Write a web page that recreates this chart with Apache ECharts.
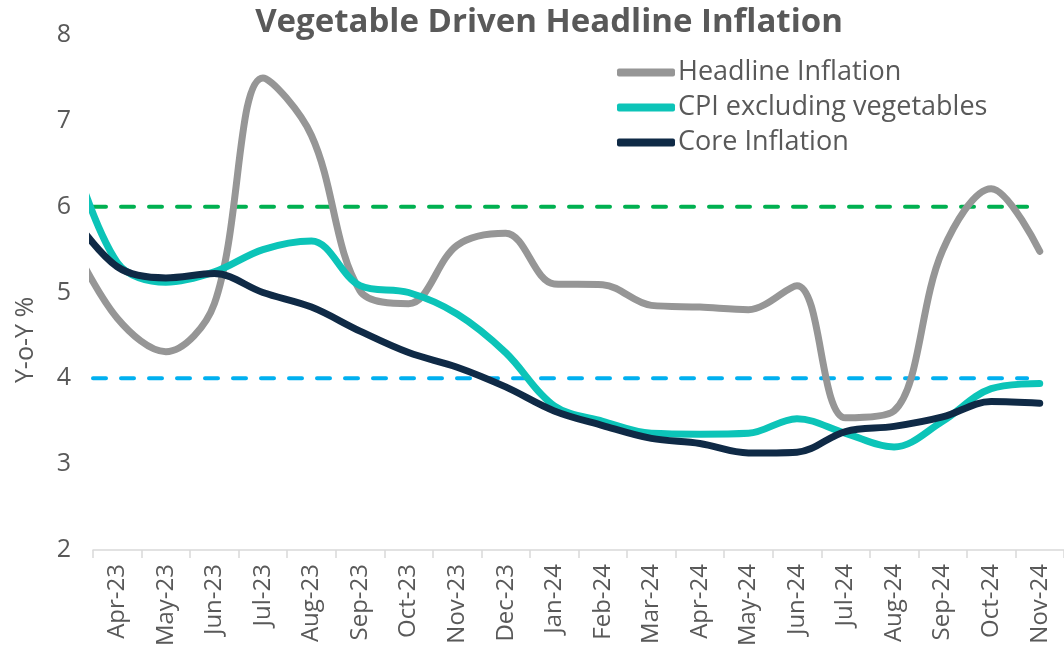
<!DOCTYPE html>
<html>
<head>
<meta charset="utf-8">
<script src="https://cdn.jsdelivr.net/npm/echarts@6/dist/echarts.min.js"></script>
<style>
html,body{margin:0;padding:0;background:#fff;}
#chart{width:1064px;height:665px;}
</style>
</head>
<body>
<div id="chart"></div>
<script>
// ---- data ----
const categories = ['Apr-23','May-23','Jun-23','Jul-23','Aug-23','Sep-23','Oct-23','Nov-23','Dec-23',
  'Jan-24','Feb-24','Mar-24','Apr-24','May-24','Jun-24','Jul-24','Aug-24','Sep-24','Oct-24','Nov-24'];
// value for the month before the first category (Mar-23); the chart clips it at the axis start
const priorHeadline = 5.66;
const priorExVeg = 6.75;
const priorCore = 5.95;
const headline = [4.70,4.31,4.87,7.50,6.83,5.02,4.87,5.55,5.69,5.10,5.09,4.85,4.83,4.80,5.08,3.54,3.62,5.49,6.21,5.48];
const exVeg    = [5.35,5.12,5.24,5.50,5.60,5.08,5.00,4.75,4.30,3.68,3.50,3.36,3.35,3.36,3.53,3.36,3.20,3.50,3.88,3.94];
const core     = [5.30,5.17,5.22,5.00,4.83,4.55,4.30,4.13,3.90,3.62,3.45,3.30,3.24,3.13,3.14,3.38,3.44,3.55,3.73,3.71];
const upperTarget = 6;
const lowerTarget = 4;
const yTicks = [2,3,4,5,6,7,8];

const FONT = 'Open Sans';
const TXT = '#595959';

function toPts(prior, arr){
  const pts = [[-1, prior]];
  arr.forEach((v,i)=>pts.push([i, v]));
  return pts;
}
const refStart = -0.5, refEnd = categories.length - 1.26;

const chart = echarts.init(document.getElementById('chart'), null, {renderer:'canvas'});
const lineCommon = {type:'line', xAxisIndex:1, yAxisIndex:0, showSymbol:false, symbol:'none', smooth:0.35, clip:true, z:3};
chart.setOption({
  animation:false,
  backgroundColor:'#fff',
  title:{text:'Vegetable Driven Headline Inflation', left:544, textAlign:'center', top:1,
    textStyle:{fontFamily:FONT, fontWeight:'bold', fontSize:33, color:TXT}},
  legend:{orient:'vertical', left:617, top:59, padding:0, itemWidth:58, itemHeight:8, itemGap:8, icon:'roundRect',
    data:['Headline Inflation','CPI excluding vegetables','Core Inflation'],
    textStyle:{fontFamily:FONT, fontSize:27, color:TXT, padding:[0,0,0,-2]}},
  grid:{left:93, top:35, width:977, height:515, containLabel:false},
  xAxis:[
    {type:'category', data:categories, boundaryGap:true,
     axisLine:{show:true, lineStyle:{color:'#d9d9d9', width:1.5}},
     axisTick:{show:true, length:8, lineStyle:{color:'#d9d9d9', width:1.5}},
     axisLabel:{rotate:90, fontFamily:FONT, fontSize:24, color:TXT, margin:14, interval:0}},
    {type:'value', min:-0.5, max:categories.length-0.5, show:false}
  ],
  yAxis:{type:'value', min:yTicks[0], max:yTicks[yTicks.length-1], interval:1,
    axisLine:{show:false}, axisTick:{show:false}, splitLine:{show:false},
    axisLabel:{fontFamily:FONT, fontSize:25, color:TXT, margin:22}},
  graphic:[{type:'text', x:26, y:340, rotation:Math.PI/2,
    style:{text:'Y-o-Y %', font:'25px "Open Sans"', fill:TXT, align:'center', verticalAlign:'middle'}}],
  series:[
    Object.assign({}, lineCommon, {name:'upper', data:[[refStart,upperTarget],[refEnd,upperTarget]], smooth:false, z:2,
      lineStyle:{color:'#00B050', width:4, type:[13,15], cap:'round'}}),
    Object.assign({}, lineCommon, {name:'lower', data:[[refStart,lowerTarget],[refEnd,lowerTarget]], smooth:false, z:2,
      lineStyle:{color:'#00B0F0', width:4, type:[13,15], cap:'round'}}),
    Object.assign({}, lineCommon, {name:'Headline Inflation', data:toPts(priorHeadline, headline),
      itemStyle:{color:'#969696'}, lineStyle:{color:'#969696', width:7, cap:'round'}}),
    Object.assign({}, lineCommon, {name:'CPI excluding vegetables', data:toPts(priorExVeg, exVeg),
      itemStyle:{color:'#0CC4B8'}, lineStyle:{color:'#0CC4B8', width:7, cap:'round'}}),
    Object.assign({}, lineCommon, {name:'Core Inflation', data:toPts(priorCore, core),
      itemStyle:{color:'#0F2A46'}, lineStyle:{color:'#0F2A46', width:7, cap:'round'}})
  ]
});
</script>
</body>
</html>
